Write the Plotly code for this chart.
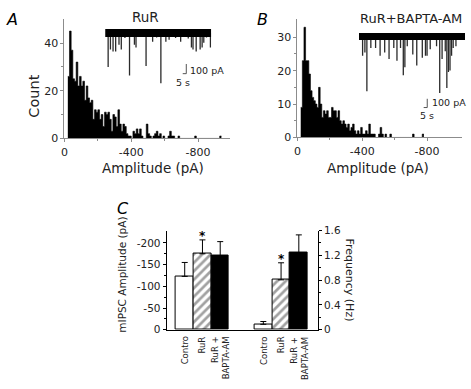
import plotly.graph_objects as go

W, H = 471, 389
FONT = "DejaVu Sans"

# ---------------- data ----------------
# Amplitude histograms: 10 pA bins starting at 20 pA (counts)
bin_start_pA = 20
bin_width_pA = 10
countsA = [26, 45, 37, 25, 24, 32, 22, 26, 22, 24,
           16, 22, 17, 15, 16, 8, 12, 11, 12, 8,
           10, 5, 11, 10, 11, 8, 3, 10, 9, 5,
           12, 6, 3, 6, 5, 2, 1, 1, 0, 3,
           2, 4, 2, 4, 1, 0, 0, 6, 2, 1,
           0, 1, 2, 3, 1, 2, 0, 1, 0, 0,
           1, 3, 1, 1, 0, 0, 1, 0, 0, 0,
           0, 0, 0, 0, 0, 0, 1, 0, 0, 0,
           0, 0, 0, 0, 0, 0, 0, 0, 0, 0,
           0, 1]
countsB = [9, 23, 33, 23, 23, 19, 14, 12, 11, 10,
           9, 15, 10, 6, 8, 7, 8, 6, 6, 9,
           8, 8, 6, 8, 5, 4, 5, 4, 3, 4,
           2, 3, 4, 2, 1, 2, 1, 3, 1, 1,
           2, 1, 4, 1, 1, 1, 0, 0, 1, 3,
           1, 0, 1, 0, 0, 1, 0, 0, 0, 0,
           0, 0, 0, 0, 0, 0, 0, 0, 0, 1,
           0, 0, 0, 0, 0, 1]
hist_x_ticks = [0, -400, -800]
hist_x_labels = ["0", "-400", "-800"]
countA_ticks = [0, 20, 40]
countB_ticks = [0, 10, 20, 30]

# Inset current traces: spontaneous events (time s, amplitude pA)
trace_duration_s = 134
spikeA_t = [3.8, 6.7, 10.0, 13.3, 17.5, 20.4, 25.0, 30.8, 37.0, 39.0, 45.0,
            51.7, 55.0, 60.0, 65.0, 70.4, 76.7, 80.8, 85.0, 89.0, 95.4, 100.0,
            105.0, 109.0, 111.0, 115.0, 120.0, 122.5, 124.6, 128.0, 133.0]
spikeA_amp = [350, 170, 190, 190, 120, 170, 50, 440, 120, 150, 40,
              340, 35, 90, 45, 520, 90, 70, 40, 50, 90, 35,
              55, 150, 170, 190, 170, 150, 100, 45, 150]
spikeB_t = [4.6, 7.5, 10.0, 15.0, 21.0, 26.7, 32.5, 38.0, 44.0, 48.0, 52.5,
            56.0, 58.0, 61.0, 68.0, 73.0, 80.0, 84.0, 86.0, 90.0, 98.0,
            102.0, 105.0, 109.0, 111.0, 113.0, 115.0, 117.0, 119.0, 122.5]
spikeB_amp = [210, 175, 595, 125, 125, 210, 175, 245, 125, 265, 125,
              420, 335, 105, 195, 315, 230, 210, 210, 140, 105,
              615, 245, 160, 560, 385, 370, 210, 125, 105]

# Panel C: mean +/- SEM
cats = ["Contro", "RuR", "RuR +<br>BAPTA-AM"]
amp_mean = [-123, -175, -171]
amp_err = [32, 32, 32]
freq_mean = [0.089, 0.805, 1.245]
freq_err = [0.045, 0.275, 0.285]
amp_ticks = [0, -50, -100, -150, -200]
amp_labels = ["0", "-50", "-100", "-150", "-200"]
freq_ticks = [0, 0.4, 0.8, 1.2, 1.6]
freq_labels = ["0", "0.4", "0.8", "1.2", "1.6"]


# ---------------- helpers ----------------
def fx(px):
    return px / W


def fy(py):
    return 1 - py / H


def spikes(ts, amps):
    xs, ys = [], []
    for t, a in zip(ts, amps):
        xs += [t, t, None]
        ys += [0, -a, None]
    return xs, ys


fig = go.Figure()

# ---------------- histograms (filled step outline) ----------------
AX_GRAY = "#8c8c8c"
for counts, xa, ya in [(countsA, "x", "y"), (countsB, "x2", "y2")]:
    edges = [-(bin_start_pA + bin_width_pA * i) for i in range(len(counts) + 1)]
    ys = list(counts) + [counts[-1]]
    fig.add_trace(go.Scatter(x=edges, y=ys, mode="lines", line_shape="hv",
                             line=dict(color="black", width=0.6), fill="tozeroy",
                             fillcolor="black", xaxis=xa, yaxis=ya,
                             showlegend=False, hoverinfo="skip"))

hist_common = dict(showline=True, linecolor=AX_GRAY, linewidth=1, ticks="outside",
                   ticklen=3, tickcolor=AX_GRAY, showgrid=False, zeroline=False,
                   tickfont=dict(family=FONT, size=11, color="#222"))
fig.update_layout(
    xaxis=dict(domain=[fx(61), fx(228)], range=[0, -992], anchor="y",
               tickmode="array", tickvals=hist_x_ticks, ticktext=hist_x_labels,
               minor=dict(tickvals=[-200, -600], ticks="outside", ticklen=2, tickcolor=AX_GRAY),
               **hist_common),
    yaxis=dict(domain=[fy(137), fy(13)], range=[0, 50.25], anchor="x",
               tickmode="array", tickvals=countA_ticks,
               minor=dict(tickvals=[10, 30], ticks="outside", ticklen=2, tickcolor=AX_GRAY),
               **hist_common),
    xaxis2=dict(domain=[fx(296), fx(462)], range=[0, -1016], anchor="y2",
                tickmode="array", tickvals=hist_x_ticks, ticktext=hist_x_labels,
                minor=dict(tickvals=[-200, -600], ticks="outside", ticklen=2, tickcolor=AX_GRAY),
                **hist_common),
    yaxis2=dict(domain=[fy(136), fy(13)], range=[0, 35.6], anchor="x2",
                tickmode="array", tickvals=countB_ticks,
                minor=dict(tickvals=[5, 15, 25], ticks="outside", ticklen=2, tickcolor=AX_GRAY),
                **hist_common),
)

# ---------------- inset traces ----------------
inset_hidden = dict(visible=False, showgrid=False, zeroline=False)
for (ts, amps, xa, ya, bw) in [(spikeA_t, spikeA_amp, "x3", "y3", 8),
                               (spikeB_t, spikeB_amp, "x4", "y4", 7)]:
    sx, sy = spikes(ts, amps)
    fig.add_trace(go.Scatter(x=sx, y=sy, mode="lines", xaxis=xa, yaxis=ya,
                             line=dict(color="#2a2a2a", width=1.3),
                             showlegend=False, hoverinfo="skip"))
    fig.add_trace(go.Scatter(x=[0, trace_duration_s], y=[0, 0], mode="lines",
                             xaxis=xa, yaxis=ya, line=dict(color="black", width=bw),
                             showlegend=False, hoverinfo="skip"))

fig.update_layout(
    xaxis3=dict(domain=[fx(102), fx(209)], range=[0, trace_duration_s], anchor="y3", **inset_hidden),
    yaxis3=dict(domain=[fy(90), fy(20)], range=[-620, 80], anchor="x3", **inset_hidden),
    xaxis4=dict(domain=[fx(358), fx(465)], range=[0, trace_duration_s], anchor="y4", **inset_hidden),
    yaxis4=dict(domain=[fy(118), fy(22)], range=[-908, 100], anchor="x4", **inset_hidden),
)

# scale bars (100 pA / 5 s)
for xr, yr, tx, y_top, y_bot, t_txt, y_txt, t5, y5 in [
        ("x3", "y3", 102.5, -320, -420, 105, -390, 98.8, -510),
        ("x4", "y4", 86.25, -677, -772, 89.4, -719, 85.6, -856)]:
    fig.add_shape(type="line", xref=xr, yref=yr, x0=tx, x1=tx, y0=y_top, y1=y_bot,
                  line=dict(color="#555", width=1))
    fig.add_shape(type="line", xref=xr, yref=yr, x0=tx - 4.5, x1=tx, y0=y_bot, y1=y_bot,
                  line=dict(color="#555", width=1))
    fig.add_annotation(x=t_txt, y=y_txt, xref=xr, yref=yr, text="100 pA", showarrow=False,
                       xanchor="left", yanchor="middle",
                       font=dict(family=FONT, size=9.5, color="#222"))
    fig.add_annotation(x=t5, y=y5, xref=xr, yref=yr, text="5 s", showarrow=False,
                       xanchor="center", yanchor="middle",
                       font=dict(family=FONT, size=9.5, color="#222"))

# ---------------- panel C ----------------
pos1 = [0, 1, 2]
pos2 = [4.43, 5.43, 6.43]
bar_colors = ["white", "white", "black"]
bar_patterns = ["", "/", ""]
bar_marker = dict(color=bar_colors, line=dict(color="black", width=1),
                  pattern=dict(shape=bar_patterns, fgcolor="black", bgcolor="white",
                               size=6, solidity=0.45))
fig.add_trace(go.Bar(x=pos1, y=amp_mean, width=1, xaxis="x5", yaxis="y5", marker=bar_marker,
                     error_y=dict(type="data", symmetric=False, array=[0, 0, 0],
                                  arrayminus=amp_err, color="black", thickness=1, width=3),
                     showlegend=False, hoverinfo="skip"))
fig.add_trace(go.Bar(x=pos2, y=freq_mean, width=1, xaxis="x5", yaxis="y6", marker=bar_marker,
                     error_y=dict(type="data", symmetric=False, array=freq_err,
                                  arrayminus=[0, 0, 0], color="black", thickness=1, width=3),
                     showlegend=False, hoverinfo="skip"))

c_font = dict(family=FONT, size=10.5, color="#222")
fig.update_layout(
    xaxis5=dict(domain=[fx(164), fx(316.5)], range=[-1.02, 7.5], anchor="y5",
                showline=True, linecolor="black", linewidth=1, showticklabels=False,
                ticks="", showgrid=False, zeroline=False),
    yaxis5=dict(domain=[fy(335), fy(232.3)], range=[0, -228.5], anchor="x5",
                showline=True, linecolor="black", linewidth=1, ticks="outside", ticklen=3,
                tickcolor="black", tickmode="array", tickvals=amp_ticks, ticktext=amp_labels,
                minor=dict(tickvals=[-25, -75, -125, -175], ticks="outside", ticklen=2,
                           tickcolor="black"),
                showgrid=False, zeroline=False, tickfont=c_font),
    yaxis6=dict(domain=[fy(335), fy(232.3)], range=[0, 1.6], anchor="x5", overlaying="y5",
                side="right", showline=True, linecolor="black", linewidth=1, ticks="outside",
                ticklen=3, tickcolor="black", tickmode="array", tickvals=freq_ticks,
                ticktext=freq_labels,
                minor=dict(tickvals=[0.2, 0.6, 1.0, 1.4], ticks="outside", ticklen=2,
                           tickcolor="black"),
                showgrid=False, zeroline=False, tickfont=c_font),
)

# category labels under bars
for p, c in zip(pos1 + pos2, cats + cats):
    fig.add_annotation(x=p, y=fy(340), xref="x5", yref="paper", text=c, showarrow=False,
                       textangle=-90, xanchor="center", yanchor="top", align="right",
                       font=dict(family=FONT, size=8.5, color="#222"))

# significance stars
fig.add_annotation(x=pos1[1], y=amp_mean[1] - amp_err[1], xref="x5", yref="y5", text="<b>*</b>",
                   showarrow=False, yanchor="middle", yshift=4,
                   font=dict(family=FONT, size=12, color="black"))
fig.add_annotation(x=pos2[1], y=freq_mean[1] + freq_err[1], xref="x5", yref="y6", text="<b>*</b>",
                   showarrow=False, yanchor="middle", yshift=4,
                   font=dict(family=FONT, size=12, color="black"))

# ---------------- titles and panel letters ----------------
def txt(x, y, s, size, angle=0, italic=False, color="#222"):
    fig.add_annotation(x=fx(x), y=fy(y), xref="paper", yref="paper", text=s, showarrow=False,
                       textangle=angle, xanchor="center", yanchor="middle",
                       font=dict(family=FONT, size=size, color=color,
                                 style="italic" if italic else "normal"))

txt(30, 93, "Count", 14.5, angle=-90)
txt(150, 168, "Amplitude (pA)", 13.5)
txt(377, 168, "Amplitude (pA)", 13.5)
txt(143, 11, "RuR", 13.5)
txt(410, 13, "RuR+BAPTA-AM", 13)
txt(8, 14, "A", 16, italic=True, color="black")
txt(261, 14, "B", 16, italic=True, color="black")
txt(120, 209, "C", 16, italic=True, color="black")
txt(119, 278, "mIPSC Amplitude (pA)", 10.5, angle=-90)
txt(348, 283, "Frequency (Hz)", 11, angle=90)

fig.update_layout(width=W, height=H, autosize=False,
                  margin=dict(l=0, r=0, t=0, b=0, pad=0),
                  paper_bgcolor="white", plot_bgcolor="rgba(0,0,0,0)",
                  barmode="overlay", bargap=0, showlegend=False,
                  font=dict(family=FONT, color="#222"))

fig.write_html("out.html", config={"displayModeBar": False},
               post_script="document.body.style.margin='0';")
